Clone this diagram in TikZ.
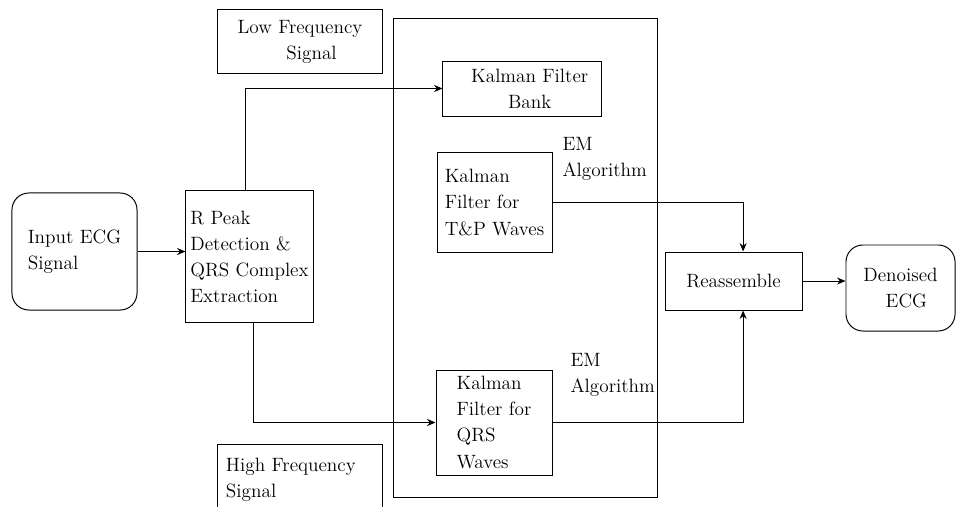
\documentclass[tikz,border=0pt]{standalone}
\usetikzlibrary{arrows.meta}
\begin{document}
\begin{tikzpicture}[x=0.025cm, y=-0.025cm, line width=0.7pt, font=\fontsize{13.7}{18.5}\selectfont,
  box/.style={draw, rectangle, inner sep=0pt},
  rbox/.style={draw, rectangle, rounded corners=12pt, inner sep=0pt},
  tag/.style={inner sep=0pt, anchor=west, align=left},
  link/.style={-{Stealth[length=6pt, width=5pt]}}]
\useasboundingbox (0,0) rectangle (957,506);
\clip (0,0) rectangle (957,506);
\node[rbox, minimum width=3.125cm, minimum height=2.925cm, align=left] (input) at (74.5,251.5) {Input ECG\\Signal};
\node[box, minimum width=3.175cm, minimum height=3.275cm, align=left] (rpeak) at (249.5,256.5) {R Peak\\Detection \&\\QRS Complex\\Extraction};
\node[box, minimum width=4.1cm, minimum height=1.575cm, align=center] (low) at (300,41.5) {Low Frequency\\\hspace{1.2em}Signal};
\node[box, minimum width=4.1cm, minimum height=1.775cm, text width=3.7cm, align=left] (high) at (300,479.5) {High Frequency\\Signal};
\draw (393,18) rectangle (657,497);
\node[box, minimum width=3.95cm, minimum height=1.375cm, align=center] (kfb) at (522,88.5) {\hspace{0.8em}Kalman Filter\\\hspace{0.8em}Bank};
\node[box, minimum width=2.875cm, minimum height=2.475cm, align=left] (kftp) at (494.5,202.5) {Kalman\\Filter for\\T\&P Waves};
\node[box, minimum width=2.9cm, minimum height=2.625cm, align=left] (kfqrs) at (494,422.5) {Kalman\\Filter for\\QRS\\Waves};
\node[tag] (em1) at (562,159) {EM\\Algorithm};
\node[tag] (em2) at (570,375) {EM\\Algorithm};
\node[box, minimum width=3.425cm, minimum height=1.45cm] (reas) at (733.5,281) {Reassemble};
\node[rbox, minimum width=2.725cm, minimum height=2.15cm, align=center] (den) at (900.5,288) {Denoised\\\hspace{0.6em}ECG};
\draw[link] (input.east) -- (input.east -| rpeak.west);
\draw[link] ([xshift=-0.09cm]rpeak.north) |- (kfb.west);
\draw[link] ([xshift=0.11cm]rpeak.south) |- (kfqrs.west);
\draw[link] (kftp.east) -| ([xshift=0.24cm]reas.north);
\draw[link] (kfqrs.east) -| ([xshift=0.24cm]reas.south);
\draw[link] (reas.east) -- (reas.east -| den.west);
\end{tikzpicture}
\end{document}
